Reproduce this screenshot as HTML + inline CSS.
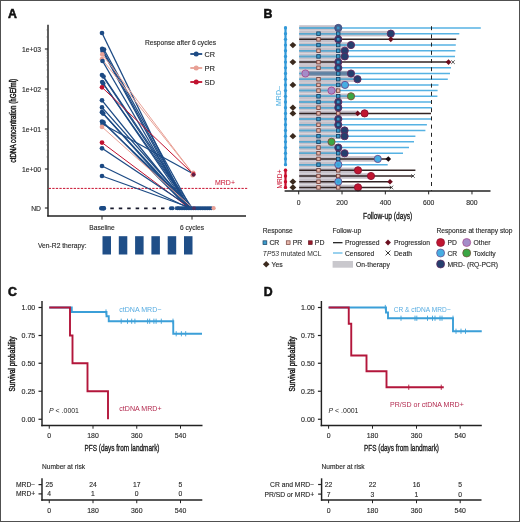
<!DOCTYPE html>
<html><head><meta charset="utf-8"><style>
html,body{margin:0;padding:0;background:#fff;}
.wrap{position:relative;width:520px;height:522px;overflow:hidden;background:#fff;}
svg{position:absolute;left:0;top:0;font-family:"Liberation Sans", sans-serif;will-change:transform;}
.bd{position:absolute;left:0;top:0;width:518px;height:520px;border:1px solid #505050;}
</style></head><body><div class="wrap">
<svg width="520" height="522" viewBox="0 0 520 522" font-family='"Liberation Sans", sans-serif'>
<text x="8" y="18" font-size="12.3" fill="#111" font-weight="bold" stroke="#111" stroke-width="0.55">A</text>
<line x1="48" y1="24.8" x2="48" y2="216.6" stroke="#222" stroke-width="1.45" />
<line x1="47.3" y1="216" x2="246" y2="216" stroke="#222" stroke-width="1.45" />
<line x1="44.9" y1="49" x2="48" y2="49" stroke="#222" stroke-width="1.1" />
<text x="41" y="52.3" font-size="6.75" fill="#2c2c2c" text-anchor="end" textLength="19" lengthAdjust="spacingAndGlyphs" stroke="#2c2c2c" stroke-width="0.14" >1e+03</text>
<line x1="44.9" y1="89" x2="48" y2="89" stroke="#222" stroke-width="1.1" />
<text x="41" y="92.3" font-size="6.75" fill="#2c2c2c" text-anchor="end" textLength="19" lengthAdjust="spacingAndGlyphs" stroke="#2c2c2c" stroke-width="0.14" >1e+02</text>
<line x1="44.9" y1="129" x2="48" y2="129" stroke="#222" stroke-width="1.1" />
<text x="41" y="132.3" font-size="6.75" fill="#2c2c2c" text-anchor="end" textLength="19" lengthAdjust="spacingAndGlyphs" stroke="#2c2c2c" stroke-width="0.14" >1e+01</text>
<line x1="44.9" y1="169" x2="48" y2="169" stroke="#222" stroke-width="1.1" />
<text x="41" y="172.3" font-size="6.75" fill="#2c2c2c" text-anchor="end" textLength="19" lengthAdjust="spacingAndGlyphs" stroke="#2c2c2c" stroke-width="0.14" >1e+00</text>
<line x1="44.9" y1="208" x2="48" y2="208" stroke="#222" stroke-width="1.1" />
<text x="41" y="211.3" font-size="6.75" fill="#2c2c2c" text-anchor="end" stroke="#2c2c2c" stroke-width="0.14" >ND</text>
<line x1="46.6" y1="156.96" x2="48" y2="156.96" stroke="#555" stroke-width="0.7" />
<line x1="46.6" y1="149.92" x2="48" y2="149.92" stroke="#555" stroke-width="0.7" />
<line x1="46.6" y1="144.92" x2="48" y2="144.92" stroke="#555" stroke-width="0.7" />
<line x1="46.6" y1="141.04" x2="48" y2="141.04" stroke="#555" stroke-width="0.7" />
<line x1="46.6" y1="137.87" x2="48" y2="137.87" stroke="#555" stroke-width="0.7" />
<line x1="46.6" y1="135.2" x2="48" y2="135.2" stroke="#555" stroke-width="0.7" />
<line x1="46.6" y1="132.88" x2="48" y2="132.88" stroke="#555" stroke-width="0.7" />
<line x1="46.6" y1="130.83" x2="48" y2="130.83" stroke="#555" stroke-width="0.7" />
<line x1="46.6" y1="116.96" x2="48" y2="116.96" stroke="#555" stroke-width="0.7" />
<line x1="46.6" y1="109.92" x2="48" y2="109.92" stroke="#555" stroke-width="0.7" />
<line x1="46.6" y1="104.92" x2="48" y2="104.92" stroke="#555" stroke-width="0.7" />
<line x1="46.6" y1="101.04" x2="48" y2="101.04" stroke="#555" stroke-width="0.7" />
<line x1="46.6" y1="97.87" x2="48" y2="97.87" stroke="#555" stroke-width="0.7" />
<line x1="46.6" y1="95.2" x2="48" y2="95.2" stroke="#555" stroke-width="0.7" />
<line x1="46.6" y1="92.88" x2="48" y2="92.88" stroke="#555" stroke-width="0.7" />
<line x1="46.6" y1="90.83" x2="48" y2="90.83" stroke="#555" stroke-width="0.7" />
<line x1="46.6" y1="76.96" x2="48" y2="76.96" stroke="#555" stroke-width="0.7" />
<line x1="46.6" y1="69.92" x2="48" y2="69.92" stroke="#555" stroke-width="0.7" />
<line x1="46.6" y1="64.92" x2="48" y2="64.92" stroke="#555" stroke-width="0.7" />
<line x1="46.6" y1="61.04" x2="48" y2="61.04" stroke="#555" stroke-width="0.7" />
<line x1="46.6" y1="57.87" x2="48" y2="57.87" stroke="#555" stroke-width="0.7" />
<line x1="46.6" y1="55.2" x2="48" y2="55.2" stroke="#555" stroke-width="0.7" />
<line x1="46.6" y1="52.88" x2="48" y2="52.88" stroke="#555" stroke-width="0.7" />
<line x1="46.6" y1="50.83" x2="48" y2="50.83" stroke="#555" stroke-width="0.7" />
<line x1="46.6" y1="36.96" x2="48" y2="36.96" stroke="#555" stroke-width="0.7" />
<line x1="46.6" y1="29.92" x2="48" y2="29.92" stroke="#555" stroke-width="0.7" />
<line x1="102" y1="216" x2="102" y2="219.6" stroke="#222" stroke-width="1" />
<line x1="192" y1="216" x2="192" y2="219.6" stroke="#222" stroke-width="1" />
<text x="102" y="229.8" font-size="6.7" fill="#2c2c2c" text-anchor="middle" textLength="25.5" lengthAdjust="spacingAndGlyphs" stroke="#2c2c2c" stroke-width="0.14" >Baseline</text>
<text x="192" y="229.8" font-size="6.7" fill="#2c2c2c" text-anchor="middle" textLength="24" lengthAdjust="spacingAndGlyphs" stroke="#2c2c2c" stroke-width="0.14" >6 cycles</text>
<text transform="translate(15.6,120.6) rotate(-90)" font-size="8.2" fill="#141414" stroke="#141414" stroke-width="0.42" text-anchor="middle" textLength="83.6" lengthAdjust="spacingAndGlyphs">ctDNA concentration (hGE/ml)</text>
<line x1="48.7" y1="188.4" x2="247.2" y2="188.4" stroke="#c8102e" stroke-width="1" stroke-dasharray="2.3 1.27"/>
<text x="215" y="185.4" font-size="7" fill="#c8102e" textLength="20" lengthAdjust="spacingAndGlyphs" stroke="none">MRD+</text>
<text x="145" y="45" font-size="6.7" fill="#2c2c2c" textLength="71" lengthAdjust="spacingAndGlyphs" stroke="#2c2c2c" stroke-width="0.14" >Response after 6 cycles</text>
<line x1="190.3" y1="54" x2="202.2" y2="54" stroke="#1c4a84" stroke-width="1.8" />
<circle cx="196.2" cy="54" r="2.5" fill="#1c4a84"/>
<text x="204.5" y="56.85" font-size="7.8" fill="#2a2a2a" textLength="10.5" lengthAdjust="spacingAndGlyphs" stroke="#2a2a2a" stroke-width="0.14" >CR</text>
<line x1="190.3" y1="68" x2="202.2" y2="68" stroke="#e8a095" stroke-width="1.8" />
<circle cx="196.2" cy="68" r="2.5" fill="#e8a095"/>
<text x="204.5" y="70.85" font-size="7.8" fill="#2a2a2a" textLength="10.5" lengthAdjust="spacingAndGlyphs" stroke="#2a2a2a" stroke-width="0.14" >PR</text>
<line x1="190.3" y1="82" x2="202.2" y2="82" stroke="#c0112f" stroke-width="1.8" />
<circle cx="196.2" cy="82" r="2.5" fill="#c0112f"/>
<text x="204.5" y="84.85" font-size="7.8" fill="#2a2a2a" textLength="10.5" lengthAdjust="spacingAndGlyphs" stroke="#2a2a2a" stroke-width="0.14" >SD</text>
<line x1="102" y1="33" x2="186.5" y2="207" stroke="#1c4a84" stroke-width="1.3" />
<line x1="102.2" y1="48.8" x2="188.5" y2="207" stroke="#1c4a84" stroke-width="1.3" />
<line x1="104" y1="49.5" x2="190.5" y2="207" stroke="#1c4a84" stroke-width="1.3" />
<line x1="102.5" y1="51" x2="187.0" y2="207" stroke="#1c4a84" stroke-width="1.3" />
<line x1="102.3" y1="54.4" x2="193" y2="173.8" stroke="#e8a095" stroke-width="1.0" />
<line x1="102" y1="59.2" x2="193" y2="173.8" stroke="#e8a095" stroke-width="1.0" />
<line x1="102.5" y1="61" x2="187.5" y2="207" stroke="#1c4a84" stroke-width="1.3" />
<line x1="102" y1="75" x2="189.5" y2="207" stroke="#1c4a84" stroke-width="1.3" />
<line x1="103.5" y1="76.5" x2="191.5" y2="207" stroke="#1c4a84" stroke-width="1.3" />
<line x1="102.2" y1="82" x2="188.0" y2="207" stroke="#1c4a84" stroke-width="1.3" />
<line x1="103.2" y1="83.6" x2="190.0" y2="207" stroke="#1c4a84" stroke-width="1.3" />
<line x1="102" y1="87.3" x2="193" y2="173.8" stroke="#c0112f" stroke-width="1.0" />
<line x1="102" y1="100.3" x2="188.5" y2="207" stroke="#1c4a84" stroke-width="1.3" />
<line x1="102" y1="107.4" x2="190.5" y2="207" stroke="#1c4a84" stroke-width="1.3" />
<line x1="102" y1="112.2" x2="187.0" y2="207" stroke="#1c4a84" stroke-width="1.3" />
<line x1="103.2" y1="113.6" x2="189.0" y2="207" stroke="#1c4a84" stroke-width="1.3" />
<line x1="102" y1="121.6" x2="191.0" y2="207" stroke="#1c4a84" stroke-width="1.3" />
<line x1="103.5" y1="122.4" x2="187.5" y2="207" stroke="#1c4a84" stroke-width="1.3" />
<line x1="102.5" y1="124" x2="193" y2="173.8" stroke="#1c4a84" stroke-width="1.3" />
<line x1="102" y1="126.9" x2="191.5" y2="207" stroke="#e8a095" stroke-width="1.0" />
<line x1="102" y1="142.6" x2="188.0" y2="207" stroke="#c0112f" stroke-width="1.0" />
<line x1="102" y1="148.3" x2="190.0" y2="207" stroke="#1c4a84" stroke-width="1.3" />
<line x1="102" y1="166" x2="186.5" y2="207" stroke="#1c4a84" stroke-width="1.3" />
<line x1="102" y1="176" x2="188.5" y2="207" stroke="#1c4a84" stroke-width="1.3" />
<line x1="110.3" y1="208.3" x2="166" y2="208.3" stroke="#181a2c" stroke-width="1.7" stroke-dasharray="3.5 4.95"/>
<circle cx="102" cy="33" r="2.35" fill="#1c4a84"/>
<circle cx="102.2" cy="48.8" r="2.35" fill="#1c4a84"/>
<circle cx="104" cy="49.5" r="2.35" fill="#1c4a84"/>
<circle cx="102.5" cy="51" r="2.35" fill="#1c4a84"/>
<circle cx="102.3" cy="54.4" r="2.35" fill="#e8a095"/>
<circle cx="102" cy="59.2" r="2.35" fill="#e8a095"/>
<circle cx="102.5" cy="61" r="2.35" fill="#1c4a84"/>
<circle cx="102" cy="75" r="2.35" fill="#1c4a84"/>
<circle cx="103.5" cy="76.5" r="2.35" fill="#1c4a84"/>
<circle cx="102.2" cy="82" r="2.35" fill="#1c4a84"/>
<circle cx="103.2" cy="83.6" r="2.35" fill="#1c4a84"/>
<circle cx="102" cy="87.3" r="2.35" fill="#c0112f"/>
<circle cx="102" cy="100.3" r="2.35" fill="#1c4a84"/>
<circle cx="102" cy="107.4" r="2.35" fill="#1c4a84"/>
<circle cx="102" cy="112.2" r="2.35" fill="#1c4a84"/>
<circle cx="103.2" cy="113.6" r="2.35" fill="#1c4a84"/>
<circle cx="102" cy="121.6" r="2.35" fill="#1c4a84"/>
<circle cx="103.5" cy="122.4" r="2.35" fill="#1c4a84"/>
<circle cx="102.5" cy="124" r="2.35" fill="#1c4a84"/>
<circle cx="102" cy="126.9" r="2.35" fill="#e8a095"/>
<circle cx="102" cy="142.6" r="2.35" fill="#c0112f"/>
<circle cx="102" cy="148.3" r="2.35" fill="#1c4a84"/>
<circle cx="102" cy="166" r="2.35" fill="#1c4a84"/>
<circle cx="102" cy="176" r="2.35" fill="#1c4a84"/>
<circle cx="101.2" cy="208.3" r="2.2" fill="#1c4a84"/>
<circle cx="102.4" cy="208.3" r="2.2" fill="#1c4a84"/>
<circle cx="103.6" cy="208.3" r="2.2" fill="#1c4a84"/>
<circle cx="103.9" cy="208.3" r="2.2" fill="#1c4a84"/>
<circle cx="170.90" cy="208.2" r="2.0" fill="#1c4a84"/>
<circle cx="172.60" cy="208.2" r="2.0" fill="#1c4a84"/>
<circle cx="177.60" cy="208.2" r="2.0" fill="#1c4a84"/>
<circle cx="179.37" cy="208.2" r="2.0" fill="#1c4a84"/>
<circle cx="181.14" cy="208.2" r="2.0" fill="#1c4a84"/>
<circle cx="182.91" cy="208.2" r="2.0" fill="#1c4a84"/>
<circle cx="184.67" cy="208.2" r="2.0" fill="#1c4a84"/>
<circle cx="186.44" cy="208.2" r="2.0" fill="#1c4a84"/>
<circle cx="188.21" cy="208.2" r="2.0" fill="#1c4a84"/>
<circle cx="189.98" cy="208.2" r="2.0" fill="#1c4a84"/>
<circle cx="191.75" cy="208.2" r="2.0" fill="#1c4a84"/>
<circle cx="193.52" cy="208.2" r="2.0" fill="#1c4a84"/>
<circle cx="195.28" cy="208.2" r="2.0" fill="#1c4a84"/>
<circle cx="197.05" cy="208.2" r="2.0" fill="#1c4a84"/>
<circle cx="198.82" cy="208.2" r="2.0" fill="#1c4a84"/>
<circle cx="200.59" cy="208.2" r="2.0" fill="#1c4a84"/>
<circle cx="202.36" cy="208.2" r="2.0" fill="#1c4a84"/>
<circle cx="204.13" cy="208.2" r="2.0" fill="#1c4a84"/>
<circle cx="205.89" cy="208.2" r="2.0" fill="#1c4a84"/>
<circle cx="207.66" cy="208.2" r="2.0" fill="#1c4a84"/>
<circle cx="209.43" cy="208.2" r="2.0" fill="#1c4a84"/>
<circle cx="211.20" cy="208.2" r="2.0" fill="#1c4a84"/>
<rect x="175" y="206.5" width="4" height="3.4" fill="#1c4a84" opacity="0.85"/>
<circle cx="194" cy="208.2" r="1.9" fill="#7a1f45" opacity="0.55"/>
<circle cx="213.6" cy="208.2" r="2.1" fill="#e8a095"/>
<circle cx="193.2" cy="172.8" r="2.2" fill="#e8a095"/>
<circle cx="192.6" cy="175.2" r="2.2" fill="#e8a095"/>
<circle cx="193.6" cy="174.2" r="2.1" fill="#c0112f" opacity="0.85"/>
<circle cx="193.6" cy="174.8" r="1.9" fill="#4a1f48" opacity="0.85"/>
<text x="38" y="248.3" font-size="6.7" fill="#2c2c2c" textLength="48.5" lengthAdjust="spacingAndGlyphs" stroke="#2c2c2c" stroke-width="0.14" >Ven-R2 therapy:</text>
<rect x="102.50" y="236.2" width="8.5" height="18.3" fill="#1f4e87"/>
<rect x="118.80" y="236.2" width="8.5" height="18.3" fill="#1f4e87"/>
<rect x="135.10" y="236.2" width="8.5" height="18.3" fill="#1f4e87"/>
<rect x="151.40" y="236.2" width="8.5" height="18.3" fill="#1f4e87"/>
<rect x="167.70" y="236.2" width="8.5" height="18.3" fill="#1f4e87"/>
<rect x="184.00" y="236.2" width="8.5" height="18.3" fill="#1f4e87"/>
<text x="263.6" y="18.2" font-size="12.3" fill="#111" font-weight="bold" stroke="#111" stroke-width="0.55">B</text>
<rect x="299.2" y="25.20" width="38.80" height="5.5" fill="#c6c1ca"/>
<rect x="299.2" y="30.89" width="91.80" height="5.5" fill="#c6c1ca"/>
<rect x="299.2" y="36.59" width="38.80" height="5.5" fill="#c6c1ca"/>
<rect x="299.2" y="42.28" width="51.80" height="5.5" fill="#c6c1ca"/>
<rect x="299.2" y="47.98" width="45.80" height="5.5" fill="#c6c1ca"/>
<rect x="299.2" y="53.67" width="45.80" height="5.5" fill="#c6c1ca"/>
<rect x="299.2" y="59.37" width="38.80" height="5.5" fill="#c6c1ca"/>
<rect x="299.2" y="65.06" width="38.80" height="5.5" fill="#c6c1ca"/>
<rect x="299.2" y="70.76" width="51.80" height="5.5" fill="#c6c1ca"/>
<rect x="299.2" y="76.45" width="57.80" height="5.5" fill="#c6c1ca"/>
<rect x="299.2" y="82.15" width="45.80" height="5.5" fill="#c6c1ca"/>
<rect x="299.2" y="87.84" width="38.80" height="5.5" fill="#c6c1ca"/>
<rect x="299.2" y="93.54" width="51.80" height="5.5" fill="#c6c1ca"/>
<rect x="299.2" y="99.23" width="38.80" height="5.5" fill="#c6c1ca"/>
<rect x="299.2" y="104.93" width="38.80" height="5.5" fill="#c6c1ca"/>
<rect x="299.2" y="110.63" width="58.50" height="5.5" fill="#c6c1ca"/>
<rect x="299.2" y="116.32" width="38.80" height="5.5" fill="#c6c1ca"/>
<rect x="299.2" y="122.02" width="38.80" height="5.5" fill="#c6c1ca"/>
<rect x="299.2" y="127.71" width="45.80" height="5.5" fill="#c6c1ca"/>
<rect x="299.2" y="133.41" width="45.80" height="5.5" fill="#c6c1ca"/>
<rect x="299.2" y="139.10" width="32.30" height="5.5" fill="#c6c1ca"/>
<rect x="299.2" y="144.79" width="38.80" height="5.5" fill="#c6c1ca"/>
<rect x="299.2" y="150.49" width="45.80" height="5.5" fill="#c6c1ca"/>
<rect x="299.2" y="156.19" width="78.60" height="5.5" fill="#c6c1ca"/>
<rect x="299.2" y="161.88" width="38.80" height="5.5" fill="#c6c1ca"/>
<rect x="299.2" y="167.57" width="58.80" height="5.5" fill="#c6c1ca"/>
<rect x="299.2" y="173.27" width="71.80" height="5.5" fill="#c6c1ca"/>
<rect x="299.2" y="178.97" width="38.80" height="5.5" fill="#c6c1ca"/>
<rect x="299.2" y="184.66" width="58.80" height="5.5" fill="#c6c1ca"/>
<line x1="299.2" y1="27.95" x2="480.8" y2="27.95" stroke="#56b2e3" stroke-width="1.5" />
<line x1="299.2" y1="27.95" x2="338" y2="27.95" stroke="#5aa6cc" stroke-width="1.5" />
<line x1="299.2" y1="33.64" x2="459.3" y2="33.64" stroke="#56b2e3" stroke-width="1.5" />
<line x1="299.2" y1="33.64" x2="391" y2="33.64" stroke="#5aa6cc" stroke-width="1.5" />
<line x1="299.2" y1="39.34" x2="456.2" y2="39.34" stroke="#322424" stroke-width="1.5" />
<line x1="299.2" y1="45.03" x2="455.8" y2="45.03" stroke="#56b2e3" stroke-width="1.5" />
<line x1="299.2" y1="45.03" x2="351" y2="45.03" stroke="#5aa6cc" stroke-width="1.5" />
<line x1="299.2" y1="50.73" x2="455.4" y2="50.73" stroke="#56b2e3" stroke-width="1.5" />
<line x1="299.2" y1="50.73" x2="345" y2="50.73" stroke="#5aa6cc" stroke-width="1.5" />
<line x1="299.2" y1="56.42" x2="455.0" y2="56.42" stroke="#56b2e3" stroke-width="1.5" />
<line x1="299.2" y1="56.42" x2="345" y2="56.42" stroke="#5aa6cc" stroke-width="1.5" />
<line x1="299.2" y1="62.12" x2="449.0" y2="62.12" stroke="#322424" stroke-width="1.5" />
<line x1="299.2" y1="67.81" x2="451.0" y2="67.81" stroke="#56b2e3" stroke-width="1.5" />
<line x1="299.2" y1="67.81" x2="338" y2="67.81" stroke="#5aa6cc" stroke-width="1.5" />
<line x1="299.2" y1="73.51" x2="450.0" y2="73.51" stroke="#56b2e3" stroke-width="1.5" />
<line x1="299.2" y1="73.51" x2="351" y2="73.51" stroke="#5aa6cc" stroke-width="1.5" />
<line x1="299.2" y1="79.2" x2="447.8" y2="79.2" stroke="#56b2e3" stroke-width="1.5" />
<line x1="299.2" y1="79.2" x2="357" y2="79.2" stroke="#5aa6cc" stroke-width="1.5" />
<line x1="299.2" y1="84.9" x2="438.5" y2="84.9" stroke="#56b2e3" stroke-width="1.5" />
<line x1="299.2" y1="84.9" x2="345" y2="84.9" stroke="#5aa6cc" stroke-width="1.5" />
<line x1="299.2" y1="90.59" x2="437.6" y2="90.59" stroke="#56b2e3" stroke-width="1.5" />
<line x1="299.2" y1="90.59" x2="338" y2="90.59" stroke="#5aa6cc" stroke-width="1.5" />
<line x1="299.2" y1="96.29" x2="437.4" y2="96.29" stroke="#56b2e3" stroke-width="1.5" />
<line x1="299.2" y1="96.29" x2="351" y2="96.29" stroke="#5aa6cc" stroke-width="1.5" />
<line x1="299.2" y1="101.98" x2="432.0" y2="101.98" stroke="#56b2e3" stroke-width="1.5" />
<line x1="299.2" y1="101.98" x2="338" y2="101.98" stroke="#5aa6cc" stroke-width="1.5" />
<line x1="299.2" y1="107.68" x2="432.0" y2="107.68" stroke="#56b2e3" stroke-width="1.5" />
<line x1="299.2" y1="107.68" x2="338" y2="107.68" stroke="#5aa6cc" stroke-width="1.5" />
<line x1="299.2" y1="113.38" x2="431.0" y2="113.38" stroke="#322424" stroke-width="1.5" />
<line x1="299.2" y1="119.07" x2="431.0" y2="119.07" stroke="#56b2e3" stroke-width="1.5" />
<line x1="299.2" y1="119.07" x2="338" y2="119.07" stroke="#5aa6cc" stroke-width="1.5" />
<line x1="299.2" y1="124.77" x2="426.9" y2="124.77" stroke="#56b2e3" stroke-width="1.5" />
<line x1="299.2" y1="124.77" x2="338" y2="124.77" stroke="#5aa6cc" stroke-width="1.5" />
<line x1="299.2" y1="130.46" x2="425.4" y2="130.46" stroke="#56b2e3" stroke-width="1.5" />
<line x1="299.2" y1="130.46" x2="345" y2="130.46" stroke="#5aa6cc" stroke-width="1.5" />
<line x1="299.2" y1="136.16" x2="415.4" y2="136.16" stroke="#56b2e3" stroke-width="1.5" />
<line x1="299.2" y1="136.16" x2="345" y2="136.16" stroke="#5aa6cc" stroke-width="1.5" />
<line x1="299.2" y1="141.85" x2="414.0" y2="141.85" stroke="#56b2e3" stroke-width="1.5" />
<line x1="299.2" y1="141.85" x2="331.5" y2="141.85" stroke="#5aa6cc" stroke-width="1.5" />
<line x1="299.2" y1="147.54" x2="409.0" y2="147.54" stroke="#56b2e3" stroke-width="1.5" />
<line x1="299.2" y1="147.54" x2="338" y2="147.54" stroke="#5aa6cc" stroke-width="1.5" />
<line x1="299.2" y1="153.24" x2="403.0" y2="153.24" stroke="#56b2e3" stroke-width="1.5" />
<line x1="299.2" y1="153.24" x2="345" y2="153.24" stroke="#5aa6cc" stroke-width="1.5" />
<line x1="299.2" y1="158.94" x2="388.3" y2="158.94" stroke="#322424" stroke-width="1.5" />
<line x1="299.2" y1="164.63" x2="387.7" y2="164.63" stroke="#56b2e3" stroke-width="1.5" />
<line x1="299.2" y1="164.63" x2="338" y2="164.63" stroke="#5aa6cc" stroke-width="1.5" />
<line x1="299.2" y1="170.32" x2="415.4" y2="170.32" stroke="#322424" stroke-width="1.5" />
<line x1="299.2" y1="176.02" x2="413.0" y2="176.02" stroke="#322424" stroke-width="1.5" />
<line x1="299.2" y1="181.72" x2="390.0" y2="181.72" stroke="#322424" stroke-width="1.5" />
<line x1="299.2" y1="187.41" x2="391.5" y2="187.41" stroke="#322424" stroke-width="1.5" />
<rect x="305" y="71.41" width="46" height="4.2" fill="#5f7c9c" opacity="0.85"/>
<line x1="431.5" y1="26.2" x2="431.5" y2="191" stroke="#222" stroke-width="1" stroke-dasharray="4 4.2"/>
<rect x="336.45" y="26.20" width="3.5" height="3.5" fill="#3d9cca" stroke="#173f63" stroke-width="0.85"/>
<rect x="316.75" y="31.89" width="3.5" height="3.5" fill="#3d9cca" stroke="#173f63" stroke-width="0.85"/>
<rect x="336.45" y="31.89" width="3.5" height="3.5" fill="#3d9cca" stroke="#173f63" stroke-width="0.85"/>
<rect x="316.75" y="37.59" width="3.5" height="3.5" fill="#e6b8ac" stroke="#74403a" stroke-width="0.85"/>
<rect x="316.75" y="43.28" width="3.5" height="3.5" fill="#3d9cca" stroke="#173f63" stroke-width="0.85"/>
<rect x="336.45" y="43.28" width="3.5" height="3.5" fill="#3d9cca" stroke="#173f63" stroke-width="0.85"/>
<rect x="316.75" y="48.98" width="3.5" height="3.5" fill="#e6b8ac" stroke="#74403a" stroke-width="0.85"/>
<rect x="336.45" y="48.98" width="3.5" height="3.5" fill="#3d9cca" stroke="#173f63" stroke-width="0.85"/>
<rect x="316.75" y="54.67" width="3.5" height="3.5" fill="#3d9cca" stroke="#173f63" stroke-width="0.85"/>
<rect x="336.45" y="54.67" width="3.5" height="3.5" fill="#3d9cca" stroke="#173f63" stroke-width="0.85"/>
<rect x="316.75" y="60.37" width="3.5" height="3.5" fill="#e6b8ac" stroke="#74403a" stroke-width="0.85"/>
<rect x="316.75" y="66.06" width="3.5" height="3.5" fill="#e6b8ac" stroke="#74403a" stroke-width="0.85"/>
<rect x="336.45" y="71.76" width="3.5" height="3.5" fill="#3d9cca" stroke="#173f63" stroke-width="0.85"/>
<rect x="316.75" y="77.45" width="3.5" height="3.5" fill="#e6b8ac" stroke="#74403a" stroke-width="0.85"/>
<rect x="336.45" y="77.45" width="3.5" height="3.5" fill="#3d9cca" stroke="#173f63" stroke-width="0.85"/>
<rect x="316.75" y="83.15" width="3.5" height="3.5" fill="#e6b8ac" stroke="#74403a" stroke-width="0.85"/>
<rect x="336.45" y="83.15" width="3.5" height="3.5" fill="#3d9cca" stroke="#173f63" stroke-width="0.85"/>
<rect x="316.75" y="88.84" width="3.5" height="3.5" fill="#e6b8ac" stroke="#74403a" stroke-width="0.85"/>
<rect x="336.45" y="88.84" width="3.5" height="3.5" fill="#e6b8ac" stroke="#74403a" stroke-width="0.85"/>
<rect x="316.75" y="94.54" width="3.5" height="3.5" fill="#3d9cca" stroke="#173f63" stroke-width="0.85"/>
<rect x="336.45" y="94.54" width="3.5" height="3.5" fill="#3d9cca" stroke="#173f63" stroke-width="0.85"/>
<rect x="316.75" y="100.23" width="3.5" height="3.5" fill="#3d9cca" stroke="#173f63" stroke-width="0.85"/>
<rect x="316.75" y="105.93" width="3.5" height="3.5" fill="#e6b8ac" stroke="#74403a" stroke-width="0.85"/>
<rect x="316.75" y="111.63" width="3.5" height="3.5" fill="#e6b8ac" stroke="#74403a" stroke-width="0.85"/>
<rect x="336.45" y="111.63" width="3.5" height="3.5" fill="#e6b8ac" stroke="#74403a" stroke-width="0.85"/>
<rect x="316.75" y="117.32" width="3.5" height="3.5" fill="#3d9cca" stroke="#173f63" stroke-width="0.85"/>
<rect x="316.75" y="123.02" width="3.5" height="3.5" fill="#e6b8ac" stroke="#74403a" stroke-width="0.85"/>
<rect x="316.75" y="128.71" width="3.5" height="3.5" fill="#e6b8ac" stroke="#74403a" stroke-width="0.85"/>
<rect x="336.45" y="128.71" width="3.5" height="3.5" fill="#3d9cca" stroke="#173f63" stroke-width="0.85"/>
<rect x="316.75" y="134.41" width="3.5" height="3.5" fill="#3d9cca" stroke="#173f63" stroke-width="0.85"/>
<rect x="336.45" y="134.41" width="3.5" height="3.5" fill="#3d9cca" stroke="#173f63" stroke-width="0.85"/>
<rect x="316.75" y="140.10" width="3.5" height="3.5" fill="#3d9cca" stroke="#173f63" stroke-width="0.85"/>
<rect x="316.75" y="145.79" width="3.5" height="3.5" fill="#e6b8ac" stroke="#74403a" stroke-width="0.85"/>
<rect x="316.75" y="151.49" width="3.5" height="3.5" fill="#e6b8ac" stroke="#74403a" stroke-width="0.85"/>
<rect x="336.45" y="151.49" width="3.5" height="3.5" fill="#3d9cca" stroke="#173f63" stroke-width="0.85"/>
<rect x="316.75" y="157.19" width="3.5" height="3.5" fill="#e6b8ac" stroke="#74403a" stroke-width="0.85"/>
<rect x="336.45" y="157.19" width="3.5" height="3.5" fill="#3d9cca" stroke="#173f63" stroke-width="0.85"/>
<rect x="316.75" y="162.88" width="3.5" height="3.5" fill="#3d9cca" stroke="#173f63" stroke-width="0.85"/>
<rect x="316.75" y="168.57" width="3.5" height="3.5" fill="#e6b8ac" stroke="#74403a" stroke-width="0.85"/>
<rect x="336.45" y="168.57" width="3.5" height="3.5" fill="#e6b8ac" stroke="#74403a" stroke-width="0.85"/>
<rect x="316.75" y="174.27" width="3.5" height="3.5" fill="#e6b8ac" stroke="#74403a" stroke-width="0.85"/>
<rect x="336.45" y="174.27" width="3.5" height="3.5" fill="#e6b8ac" stroke="#74403a" stroke-width="0.85"/>
<rect x="316.75" y="179.97" width="3.5" height="3.5" fill="#e6b8ac" stroke="#74403a" stroke-width="0.85"/>
<rect x="316.75" y="185.66" width="3.5" height="3.5" fill="#e6b8ac" stroke="#74403a" stroke-width="0.85"/>
<rect x="336.45" y="185.66" width="3.5" height="3.5" fill="#e6b8ac" stroke="#74403a" stroke-width="0.85"/>
<circle cx="338.3" cy="27.95" r="3.6" fill="#44608e" stroke="#4a4a7e" stroke-width="0.9"/>
<circle cx="390.8" cy="33.64" r="3.6" fill="#253f6e" stroke="#63285f" stroke-width="0.9"/>
<circle cx="338.3" cy="39.34" r="3.6" fill="#253f6e" stroke="#63285f" stroke-width="0.9"/>
<circle cx="351" cy="45.03" r="3.6" fill="#253f6e" stroke="#63285f" stroke-width="0.9"/>
<circle cx="344.8" cy="50.73" r="3.6" fill="#253f6e" stroke="#63285f" stroke-width="0.9"/>
<circle cx="344.8" cy="56.42" r="3.6" fill="#253f6e" stroke="#63285f" stroke-width="0.9"/>
<circle cx="338.3" cy="62.12" r="3.6" fill="#253f6e" stroke="#63285f" stroke-width="0.9"/>
<circle cx="338.3" cy="67.81" r="3.6" fill="#253f6e" stroke="#63285f" stroke-width="0.9"/>
<circle cx="351" cy="73.51" r="3.6" fill="#253f6e" stroke="#63285f" stroke-width="0.9"/>
<circle cx="357.5" cy="79.20" r="3.6" fill="#253f6e" stroke="#63285f" stroke-width="0.9"/>
<circle cx="345" cy="84.90" r="3.6" fill="#47ade2" stroke="#6a4a8a" stroke-width="0.9"/>
<circle cx="331.5" cy="90.59" r="3.6" fill="#a48cc8" stroke="#a8458a" stroke-width="0.9"/>
<circle cx="351" cy="96.29" r="3.6" fill="#3ba643" stroke="#7a4a3a" stroke-width="0.9"/>
<circle cx="338.3" cy="101.98" r="3.6" fill="#253f6e" stroke="#63285f" stroke-width="0.9"/>
<circle cx="338.3" cy="107.68" r="3.6" fill="#253f6e" stroke="#63285f" stroke-width="0.9"/>
<circle cx="364.6" cy="113.38" r="3.6" fill="#c01530" stroke="#8a1030" stroke-width="0.9"/>
<circle cx="338.3" cy="119.07" r="3.6" fill="#253f6e" stroke="#63285f" stroke-width="0.9"/>
<circle cx="338.3" cy="124.77" r="3.6" fill="#253f6e" stroke="#63285f" stroke-width="0.9"/>
<circle cx="344.6" cy="130.46" r="3.6" fill="#253f6e" stroke="#63285f" stroke-width="0.9"/>
<circle cx="344.6" cy="136.16" r="3.6" fill="#253f6e" stroke="#63285f" stroke-width="0.9"/>
<circle cx="331.5" cy="141.85" r="3.6" fill="#3ba643" stroke="#7a4a3a" stroke-width="0.9"/>
<circle cx="338.3" cy="147.54" r="3.6" fill="#253f6e" stroke="#63285f" stroke-width="0.9"/>
<circle cx="344.6" cy="153.24" r="3.6" fill="#253f6e" stroke="#63285f" stroke-width="0.9"/>
<circle cx="377.8" cy="158.94" r="3.6" fill="#47ade2" stroke="#6a4a8a" stroke-width="0.9"/>
<circle cx="338.3" cy="164.63" r="3.6" fill="#47ade2" stroke="#6a4a8a" stroke-width="0.9"/>
<circle cx="358" cy="170.32" r="3.6" fill="#c01530" stroke="#8a1030" stroke-width="0.9"/>
<circle cx="371" cy="176.02" r="3.6" fill="#c01530" stroke="#8a1030" stroke-width="0.9"/>
<circle cx="338.3" cy="181.72" r="3.6" fill="#47ade2" stroke="#6a4a8a" stroke-width="0.9"/>
<circle cx="358" cy="187.41" r="3.6" fill="#c01530" stroke="#8a1030" stroke-width="0.9"/>
<circle cx="305.4" cy="73.51" r="3.6" fill="#a48cc8" stroke="#a8458a" stroke-width="0.8"/>
<rect x="336.9" y="26.65" width="2.6" height="2.6" fill="#3aa0d0" opacity="0.85"/>
<rect x="336.9" y="38.04" width="2.6" height="2.6" fill="#3aa0d0" opacity="0.85"/>
<rect x="336.9" y="60.82" width="2.6" height="2.6" fill="#3aa0d0" opacity="0.85"/>
<rect x="336.9" y="66.52" width="2.6" height="2.6" fill="#3aa0d0" opacity="0.85"/>
<rect x="336.9" y="100.69" width="2.6" height="2.6" fill="#3aa0d0" opacity="0.85"/>
<rect x="336.9" y="106.38" width="2.6" height="2.6" fill="#3aa0d0" opacity="0.85"/>
<rect x="336.9" y="117.77" width="2.6" height="2.6" fill="#3aa0d0" opacity="0.85"/>
<rect x="336.9" y="123.47" width="2.6" height="2.6" fill="#3aa0d0" opacity="0.85"/>
<rect x="336.9" y="146.24" width="2.6" height="2.6" fill="#3aa0d0" opacity="0.85"/>
<rect x="336.9" y="163.33" width="2.6" height="2.6" fill="#3aa0d0" opacity="0.85"/>
<rect x="336.9" y="180.41" width="2.6" height="2.6" fill="#3aa0d0" opacity="0.85"/>
<path d="M390.8 36.54 L393.6 39.34 L390.8 42.14 L388.0 39.34 Z" fill="#6e0b1c"/>
<path d="M448.5 59.32 L451.3 62.12 L448.5 64.92 L445.7 62.12 Z" fill="#6e0b1c"/>
<path d="M451.2 60.32 L454.8 63.92 M451.2 63.92 L454.8 60.32" stroke="#333" stroke-width="0.8"/>
<path d="M357.7 110.58 L360.5 113.38 L357.7 116.18 L354.9 113.38 Z" fill="#6e0b1c"/>
<path d="M388.3 156.14 L391.1 158.94 L388.3 161.74 L385.5 158.94 Z" fill="#1a0a10"/>
<path d="M411.2 174.22 L414.8 177.82 M411.2 177.82 L414.8 174.22" stroke="#333" stroke-width="0.8"/>
<path d="M390 178.92 L392.8 181.72 L390 184.52 L387.2 181.72 Z" fill="#6e0b1c"/>
<path d="M389.7 185.61 L393.3 189.21 M389.7 189.21 L393.3 185.61" stroke="#333" stroke-width="0.8"/>
<path d="M292.9 41.88 L296.29999999999995 45.03 L292.9 48.18 L289.5 45.03 Z" fill="#3b2a1e"/>
<path d="M292.9 58.97 L296.29999999999995 62.12 L292.9 65.27 L289.5 62.12 Z" fill="#3b2a1e"/>
<path d="M292.9 81.75 L296.29999999999995 84.9 L292.9 88.05 L289.5 84.9 Z" fill="#3b2a1e"/>
<path d="M292.9 104.53 L296.29999999999995 107.68 L292.9 110.83 L289.5 107.68 Z" fill="#3b2a1e"/>
<path d="M292.9 110.23 L296.29999999999995 113.38 L292.9 116.53 L289.5 113.38 Z" fill="#3b2a1e"/>
<path d="M292.9 133.01 L296.29999999999995 136.16 L292.9 139.31 L289.5 136.16 Z" fill="#3b2a1e"/>
<path d="M292.9 178.57 L296.29999999999995 181.72 L292.9 184.87 L289.5 181.72 Z" fill="#3b2a1e"/>
<path d="M292.9 184.26 L296.29999999999995 187.41 L292.9 190.56 L289.5 187.41 Z" fill="#3b2a1e"/>
<rect x="284.4" y="26.3" width="2.2" height="139.53" fill="#3299d8"/>
<circle cx="285.5" cy="27.95" r="1.65" fill="#3299d8"/>
<circle cx="285.5" cy="33.64" r="1.65" fill="#3299d8"/>
<circle cx="285.5" cy="39.34" r="1.65" fill="#3299d8"/>
<circle cx="285.5" cy="45.03" r="1.65" fill="#3299d8"/>
<circle cx="285.5" cy="50.73" r="1.65" fill="#3299d8"/>
<circle cx="285.5" cy="56.42" r="1.65" fill="#3299d8"/>
<circle cx="285.5" cy="62.12" r="1.65" fill="#3299d8"/>
<circle cx="285.5" cy="67.81" r="1.65" fill="#3299d8"/>
<circle cx="285.5" cy="73.51" r="1.65" fill="#3299d8"/>
<circle cx="285.5" cy="79.20" r="1.65" fill="#3299d8"/>
<circle cx="285.5" cy="84.90" r="1.65" fill="#3299d8"/>
<circle cx="285.5" cy="90.59" r="1.65" fill="#3299d8"/>
<circle cx="285.5" cy="96.29" r="1.65" fill="#3299d8"/>
<circle cx="285.5" cy="101.98" r="1.65" fill="#3299d8"/>
<circle cx="285.5" cy="107.68" r="1.65" fill="#3299d8"/>
<circle cx="285.5" cy="113.38" r="1.65" fill="#3299d8"/>
<circle cx="285.5" cy="119.07" r="1.65" fill="#3299d8"/>
<circle cx="285.5" cy="124.77" r="1.65" fill="#3299d8"/>
<circle cx="285.5" cy="130.46" r="1.65" fill="#3299d8"/>
<circle cx="285.5" cy="136.16" r="1.65" fill="#3299d8"/>
<circle cx="285.5" cy="141.85" r="1.65" fill="#3299d8"/>
<circle cx="285.5" cy="147.54" r="1.65" fill="#3299d8"/>
<circle cx="285.5" cy="153.24" r="1.65" fill="#3299d8"/>
<circle cx="285.5" cy="158.94" r="1.65" fill="#3299d8"/>
<circle cx="285.5" cy="164.63" r="1.65" fill="#3299d8"/>
<rect x="284.4" y="168.82" width="2.2" height="20.09" fill="#c8102e"/>
<circle cx="285.5" cy="170.32" r="1.7" fill="#c8102e"/>
<circle cx="285.5" cy="176.02" r="1.7" fill="#c8102e"/>
<circle cx="285.5" cy="181.72" r="1.7" fill="#c8102e"/>
<circle cx="285.5" cy="187.41" r="1.7" fill="#c8102e"/>
<text transform="translate(281.4,96.05) rotate(-90)" font-size="7.0" fill="#4aaee2" text-anchor="middle" textLength="19.9" lengthAdjust="spacingAndGlyphs">MRD–</text>
<text transform="translate(281.6,179) rotate(-90)" font-size="7.0" fill="#c8102e" text-anchor="middle" textLength="19.1" lengthAdjust="spacingAndGlyphs">MRD+</text>
<line x1="284.6" y1="191" x2="490.5" y2="191" stroke="#222" stroke-width="1.45" />
<line x1="298.7" y1="191" x2="298.7" y2="194.4" stroke="#222" stroke-width="1" />
<text x="298.7" y="205.1" font-size="6.8" fill="#2c2c2c" text-anchor="middle" stroke="#2c2c2c" stroke-width="0.14" >0</text>
<line x1="342.02" y1="191" x2="342.02" y2="194.4" stroke="#222" stroke-width="1" />
<text x="342.02" y="205.1" font-size="6.8" fill="#2c2c2c" text-anchor="middle" stroke="#2c2c2c" stroke-width="0.14" >200</text>
<line x1="385.34" y1="191" x2="385.34" y2="194.4" stroke="#222" stroke-width="1" />
<text x="385.34" y="205.1" font-size="6.8" fill="#2c2c2c" text-anchor="middle" stroke="#2c2c2c" stroke-width="0.14" >400</text>
<line x1="428.66" y1="191" x2="428.66" y2="194.4" stroke="#222" stroke-width="1" />
<text x="428.66" y="205.1" font-size="6.8" fill="#2c2c2c" text-anchor="middle" stroke="#2c2c2c" stroke-width="0.14" >600</text>
<line x1="471.98" y1="191" x2="471.98" y2="194.4" stroke="#222" stroke-width="1" />
<text x="471.98" y="205.1" font-size="6.8" fill="#2c2c2c" text-anchor="middle" stroke="#2c2c2c" stroke-width="0.14" >800</text>
<text x="387.7" y="219.4" font-size="8.8" fill="#1a1a1a" text-anchor="middle" textLength="49.2" lengthAdjust="spacingAndGlyphs" stroke="#1a1a1a" stroke-width="0.32">Follow-up (days)</text>
<text x="262.8" y="233.2" font-size="6.65" fill="#2c2c2c" textLength="29.9" lengthAdjust="spacingAndGlyphs" stroke="#2c2c2c" stroke-width="0.14" >Response</text>
<rect x="263.0" y="240.8" width="3.8" height="3.8" fill="#3d9cca" stroke="#173f63" stroke-width="0.7"/>
<text x="269.4" y="245.2" font-size="6.9" fill="#2c2c2c" stroke="#2c2c2c" stroke-width="0.14" >CR</text>
<rect x="286.3" y="240.8" width="3.8" height="3.8" fill="#e6b8ac" stroke="#74403a" stroke-width="0.7"/>
<text x="292.7" y="245.2" font-size="6.9" fill="#2c2c2c" stroke="#2c2c2c" stroke-width="0.14" >PR</text>
<rect x="308.40000000000003" y="240.8" width="3.8" height="3.8" fill="#9a1c2c" stroke="#5a0f1a" stroke-width="0.6"/>
<text x="314.8" y="245.2" font-size="6.9" fill="#2c2c2c" stroke="#2c2c2c" stroke-width="0.14" >PD</text>
<text x="262.8" y="255.5" font-size="6.75" fill="#2c2c2c" textLength="58.7" lengthAdjust="spacingAndGlyphs"><tspan font-style="italic">TP53</tspan> mutated MCL</text>
<path d="M266.2 260.90 L269.5 264.2 L266.2 267.50 L262.9 264.2 Z" fill="#3b2a1e"/>
<text x="271.5" y="266.5" font-size="6.9" fill="#2c2c2c" stroke="#2c2c2c" stroke-width="0.14" >Yes</text>
<text x="332.4" y="233.2" font-size="6.65" fill="#2c2c2c" stroke="#2c2c2c" stroke-width="0.14" >Follow-up</text>
<line x1="333" y1="242.7" x2="342.5" y2="242.7" stroke="#111" stroke-width="1.2" />
<text x="345" y="245.2" font-size="6.75" fill="#2c2c2c" textLength="34.5" lengthAdjust="spacingAndGlyphs" stroke="#2c2c2c" stroke-width="0.14" >Progressed</text>
<line x1="333" y1="253" x2="342.5" y2="253" stroke="#56b2e3" stroke-width="1.2" />
<text x="345" y="255.5" font-size="6.75" fill="#2c2c2c" stroke="#2c2c2c" stroke-width="0.14" >Censored</text>
<rect x="332.6" y="261" width="20.4" height="6.7" fill="#c9c8cd"/>
<text x="356" y="266.5" font-size="6.75" fill="#2c2c2c" stroke="#2c2c2c" stroke-width="0.14" >On-therapy</text>
<path d="M388 239.60 L390.9 242.5 L388 245.40 L385.1 242.5 Z" fill="#6a0f1f"/>
<text x="394" y="245.2" font-size="6.75" fill="#2c2c2c" stroke="#2c2c2c" stroke-width="0.14" >Progression</text>
<path d="M385.6 250.6 L390.4 255.4 M385.6 255.4 L390.4 250.6" stroke="#222" stroke-width="0.9"/>
<text x="394" y="255.5" font-size="6.75" fill="#2c2c2c" stroke="#2c2c2c" stroke-width="0.14" >Death</text>
<text x="436.5" y="233.2" font-size="6.67" fill="#2c2c2c" textLength="76" lengthAdjust="spacingAndGlyphs" stroke="#2c2c2c" stroke-width="0.14" >Response at therapy stop</text>
<circle cx="440.6" cy="242.5" r="4.0" fill="#c01530" stroke="#8a1030" stroke-width="0.7"/>
<text x="447.40000000000003" y="245.0" font-size="6.75" fill="#2c2c2c" stroke="#2c2c2c" stroke-width="0.14" >PD</text>
<circle cx="466.7" cy="242.5" r="4.0" fill="#a48cc8" stroke="#a8458a" stroke-width="0.7"/>
<text x="473.5" y="245.0" font-size="6.75" fill="#2c2c2c" stroke="#2c2c2c" stroke-width="0.14" >Other</text>
<circle cx="440.6" cy="253" r="4.0" fill="#47ade2" stroke="#6a4a8a" stroke-width="0.7"/>
<text x="447.40000000000003" y="255.5" font-size="6.75" fill="#2c2c2c" stroke="#2c2c2c" stroke-width="0.14" >CR</text>
<circle cx="466.7" cy="253" r="4.0" fill="#3ba643" stroke="#7a4a3a" stroke-width="0.7"/>
<text x="473.5" y="255.5" font-size="6.75" fill="#2c2c2c" stroke="#2c2c2c" stroke-width="0.14" >Toxicity</text>
<circle cx="440.6" cy="264" r="4.0" fill="#253f6e" stroke="#63285f" stroke-width="0.7"/>
<text x="447.40000000000003" y="266.5" font-size="6.75" fill="#2c2c2c" stroke="#2c2c2c" stroke-width="0.14" >MRD- (RQ-PCR)</text>
<text x="8" y="295.5" font-size="12.3" fill="#111" font-weight="bold" stroke="#111" stroke-width="0.55">C</text>
<line x1="42" y1="301" x2="42" y2="426.2" stroke="#222" stroke-width="1.45" />
<line x1="41.3" y1="425.5" x2="202.5" y2="425.5" stroke="#222" stroke-width="1.45" />
<line x1="38.5" y1="307.5" x2="42" y2="307.5" stroke="#222" stroke-width="1.2" />
<text x="35.3" y="310.0" font-size="7" fill="#2c2c2c" text-anchor="end" textLength="13.75" lengthAdjust="spacingAndGlyphs" stroke="#2c2c2c" stroke-width="0.14" >1.00</text>
<line x1="38.5" y1="335.5" x2="42" y2="335.5" stroke="#222" stroke-width="1.2" />
<text x="35.3" y="338.0" font-size="7" fill="#2c2c2c" text-anchor="end" textLength="13.75" lengthAdjust="spacingAndGlyphs" stroke="#2c2c2c" stroke-width="0.14" >0.75</text>
<line x1="38.5" y1="363.25" x2="42" y2="363.25" stroke="#222" stroke-width="1.2" />
<text x="35.3" y="365.75" font-size="7" fill="#2c2c2c" text-anchor="end" textLength="13.75" lengthAdjust="spacingAndGlyphs" stroke="#2c2c2c" stroke-width="0.14" >0.50</text>
<line x1="38.5" y1="391.25" x2="42" y2="391.25" stroke="#222" stroke-width="1.2" />
<text x="35.3" y="393.75" font-size="7" fill="#2c2c2c" text-anchor="end" textLength="13.75" lengthAdjust="spacingAndGlyphs" stroke="#2c2c2c" stroke-width="0.14" >0.25</text>
<line x1="38.5" y1="419.25" x2="42" y2="419.25" stroke="#222" stroke-width="1.2" />
<text x="35.3" y="421.75" font-size="7" fill="#2c2c2c" text-anchor="end" textLength="13.75" lengthAdjust="spacingAndGlyphs" stroke="#2c2c2c" stroke-width="0.14" >0.00</text>
<line x1="49.25" y1="425.5" x2="49.25" y2="428.7" stroke="#222" stroke-width="1" />
<text x="49.25" y="438.1" font-size="6.9" fill="#2c2c2c" text-anchor="middle" stroke="#2c2c2c" stroke-width="0.14" >0</text>
<line x1="93" y1="425.5" x2="93" y2="428.7" stroke="#222" stroke-width="1" />
<text x="93" y="438.1" font-size="6.9" fill="#2c2c2c" text-anchor="middle" stroke="#2c2c2c" stroke-width="0.14" >180</text>
<line x1="136.75" y1="425.5" x2="136.75" y2="428.7" stroke="#222" stroke-width="1" />
<text x="136.75" y="438.1" font-size="6.9" fill="#2c2c2c" text-anchor="middle" stroke="#2c2c2c" stroke-width="0.14" >360</text>
<line x1="180.5" y1="425.5" x2="180.5" y2="428.7" stroke="#222" stroke-width="1" />
<text x="180.5" y="438.1" font-size="6.9" fill="#2c2c2c" text-anchor="middle" stroke="#2c2c2c" stroke-width="0.14" >540</text>
<text transform="translate(15,364) rotate(-90)" font-size="8.2" fill="#141414" stroke="#141414" stroke-width="0.38" text-anchor="middle" textLength="55" lengthAdjust="spacingAndGlyphs">Survival probability</text>
<text x="122" y="450.6" font-size="8.8" fill="#1a1a1a" text-anchor="middle" textLength="75" lengthAdjust="spacingAndGlyphs" stroke="#1a1a1a" stroke-width="0.32">PFS (days from landmark)</text>
<path d="M49.25 307.5 L71.75 307.5 L71.75 312 L106.5 312 L106.5 316.25 L108.75 316.25 L108.75 321.25 L173.25 321.25 L173.25 333.75 L202 333.75" fill="none" stroke="#3b9fd8" stroke-width="1.9" stroke-linejoin="miter"/>
<line x1="106" y1="309.4" x2="106" y2="314.6" stroke="#3b9fd8" stroke-width="0.9" />
<line x1="121.2" y1="318.65" x2="121.2" y2="323.85" stroke="#3b9fd8" stroke-width="0.9" />
<line x1="127.5" y1="318.65" x2="127.5" y2="323.85" stroke="#3b9fd8" stroke-width="0.9" />
<line x1="131.7" y1="318.65" x2="131.7" y2="323.85" stroke="#3b9fd8" stroke-width="0.9" />
<line x1="134.9" y1="318.65" x2="134.9" y2="323.85" stroke="#3b9fd8" stroke-width="0.9" />
<line x1="147.6" y1="318.65" x2="147.6" y2="323.85" stroke="#3b9fd8" stroke-width="0.9" />
<line x1="149.7" y1="318.65" x2="149.7" y2="323.85" stroke="#3b9fd8" stroke-width="0.9" />
<line x1="153.9" y1="318.65" x2="153.9" y2="323.85" stroke="#3b9fd8" stroke-width="0.9" />
<line x1="156.1" y1="318.65" x2="156.1" y2="323.85" stroke="#3b9fd8" stroke-width="0.9" />
<line x1="161.3" y1="318.65" x2="161.3" y2="323.85" stroke="#3b9fd8" stroke-width="0.9" />
<line x1="173" y1="318.65" x2="173" y2="323.85" stroke="#3b9fd8" stroke-width="0.9" />
<line x1="176.2" y1="331.15" x2="176.2" y2="336.35" stroke="#3b9fd8" stroke-width="0.9" />
<line x1="181.4" y1="331.15" x2="181.4" y2="336.35" stroke="#3b9fd8" stroke-width="0.9" />
<line x1="185.7" y1="331.15" x2="185.7" y2="336.35" stroke="#3b9fd8" stroke-width="0.9" />
<path d="M49.25 307.5 L70 307.5 L70 335.5 L72.5 335.5 L72.5 363.25 L87.5 363.25 L87.5 391.25 L108 391.25 L108 419.25" fill="none" stroke="#b3163b" stroke-width="1.9" stroke-linejoin="miter"/>
<text x="119.2" y="312" font-size="7.05" fill="#58ade2" textLength="42.25" lengthAdjust="spacingAndGlyphs" stroke="none">ctDNA MRD−</text>
<text x="119.3" y="410.6" font-size="7.05" fill="#b32a4f" textLength="42.25" lengthAdjust="spacingAndGlyphs" stroke="none">ctDNA MRD+</text>
<text x="49" y="413" font-size="7" fill="#222" textLength="30" lengthAdjust="spacingAndGlyphs"><tspan font-style="italic">P</tspan> &lt; .0001</text>
<text x="42" y="469.4" font-size="6.6" fill="#2c2c2c" textLength="43" lengthAdjust="spacingAndGlyphs" stroke="#2c2c2c" stroke-width="0.14" >Number at risk</text>
<line x1="42" y1="478.3" x2="42" y2="500.7" stroke="#222" stroke-width="1.45" />
<line x1="41.3" y1="500" x2="202.3" y2="500" stroke="#222" stroke-width="1.45" />
<line x1="38.5" y1="484.6" x2="42" y2="484.6" stroke="#222" stroke-width="1.2" />
<text x="35.3" y="487.05" font-size="6.75" fill="#2c2c2c" text-anchor="end" stroke="#2c2c2c" stroke-width="0.14" >MRD−</text>
<text x="49.25" y="487.05" font-size="6.75" fill="#2c2c2c" text-anchor="middle" stroke="#2c2c2c" stroke-width="0.14" >25</text>
<text x="93" y="487.05" font-size="6.75" fill="#2c2c2c" text-anchor="middle" stroke="#2c2c2c" stroke-width="0.14" >24</text>
<text x="136.75" y="487.05" font-size="6.75" fill="#2c2c2c" text-anchor="middle" stroke="#2c2c2c" stroke-width="0.14" >17</text>
<text x="180.5" y="487.05" font-size="6.75" fill="#2c2c2c" text-anchor="middle" stroke="#2c2c2c" stroke-width="0.14" >5</text>
<line x1="38.5" y1="493.9" x2="42" y2="493.9" stroke="#222" stroke-width="1.2" />
<text x="35.3" y="496.34999999999997" font-size="6.75" fill="#2c2c2c" text-anchor="end" stroke="#2c2c2c" stroke-width="0.14" >MRD+</text>
<text x="49.25" y="496.34999999999997" font-size="6.75" fill="#2c2c2c" text-anchor="middle" stroke="#2c2c2c" stroke-width="0.14" >4</text>
<text x="93" y="496.34999999999997" font-size="6.75" fill="#2c2c2c" text-anchor="middle" stroke="#2c2c2c" stroke-width="0.14" >1</text>
<text x="136.75" y="496.34999999999997" font-size="6.75" fill="#2c2c2c" text-anchor="middle" stroke="#2c2c2c" stroke-width="0.14" >0</text>
<text x="180.5" y="496.34999999999997" font-size="6.75" fill="#2c2c2c" text-anchor="middle" stroke="#2c2c2c" stroke-width="0.14" >0</text>
<line x1="49.25" y1="500" x2="49.25" y2="503.2" stroke="#222" stroke-width="1" />
<text x="49.25" y="513.2" font-size="6.9" fill="#2c2c2c" text-anchor="middle" stroke="#2c2c2c" stroke-width="0.14" >0</text>
<line x1="93" y1="500" x2="93" y2="503.2" stroke="#222" stroke-width="1" />
<text x="93" y="513.2" font-size="6.9" fill="#2c2c2c" text-anchor="middle" stroke="#2c2c2c" stroke-width="0.14" >180</text>
<line x1="136.75" y1="500" x2="136.75" y2="503.2" stroke="#222" stroke-width="1" />
<text x="136.75" y="513.2" font-size="6.9" fill="#2c2c2c" text-anchor="middle" stroke="#2c2c2c" stroke-width="0.14" >360</text>
<line x1="180.5" y1="500" x2="180.5" y2="503.2" stroke="#222" stroke-width="1" />
<text x="180.5" y="513.2" font-size="6.9" fill="#2c2c2c" text-anchor="middle" stroke="#2c2c2c" stroke-width="0.14" >540</text>
<text x="263.7" y="295.5" font-size="12.3" fill="#111" font-weight="bold" stroke="#111" stroke-width="0.55">D</text>
<line x1="321.4" y1="301" x2="321.4" y2="426.2" stroke="#222" stroke-width="1.45" />
<line x1="320.7" y1="425.5" x2="481.8" y2="425.5" stroke="#222" stroke-width="1.45" />
<line x1="317.9" y1="307.5" x2="321.4" y2="307.5" stroke="#222" stroke-width="1.2" />
<text x="314.8" y="310.0" font-size="7" fill="#2c2c2c" text-anchor="end" textLength="13.75" lengthAdjust="spacingAndGlyphs" stroke="#2c2c2c" stroke-width="0.14" >1.00</text>
<line x1="317.9" y1="335.5" x2="321.4" y2="335.5" stroke="#222" stroke-width="1.2" />
<text x="314.8" y="338.0" font-size="7" fill="#2c2c2c" text-anchor="end" textLength="13.75" lengthAdjust="spacingAndGlyphs" stroke="#2c2c2c" stroke-width="0.14" >0.75</text>
<line x1="317.9" y1="363.25" x2="321.4" y2="363.25" stroke="#222" stroke-width="1.2" />
<text x="314.8" y="365.75" font-size="7" fill="#2c2c2c" text-anchor="end" textLength="13.75" lengthAdjust="spacingAndGlyphs" stroke="#2c2c2c" stroke-width="0.14" >0.50</text>
<line x1="317.9" y1="391.25" x2="321.4" y2="391.25" stroke="#222" stroke-width="1.2" />
<text x="314.8" y="393.75" font-size="7" fill="#2c2c2c" text-anchor="end" textLength="13.75" lengthAdjust="spacingAndGlyphs" stroke="#2c2c2c" stroke-width="0.14" >0.25</text>
<line x1="317.9" y1="419.25" x2="321.4" y2="419.25" stroke="#222" stroke-width="1.2" />
<text x="314.8" y="421.75" font-size="7" fill="#2c2c2c" text-anchor="end" textLength="13.75" lengthAdjust="spacingAndGlyphs" stroke="#2c2c2c" stroke-width="0.14" >0.00</text>
<line x1="328.6" y1="425.5" x2="328.6" y2="428.7" stroke="#222" stroke-width="1" />
<text x="328.6" y="438.1" font-size="6.9" fill="#2c2c2c" text-anchor="middle" stroke="#2c2c2c" stroke-width="0.14" >0</text>
<line x1="372.5" y1="425.5" x2="372.5" y2="428.7" stroke="#222" stroke-width="1" />
<text x="372.5" y="438.1" font-size="6.9" fill="#2c2c2c" text-anchor="middle" stroke="#2c2c2c" stroke-width="0.14" >180</text>
<line x1="416.5" y1="425.5" x2="416.5" y2="428.7" stroke="#222" stroke-width="1" />
<text x="416.5" y="438.1" font-size="6.9" fill="#2c2c2c" text-anchor="middle" stroke="#2c2c2c" stroke-width="0.14" >360</text>
<line x1="460.2" y1="425.5" x2="460.2" y2="428.7" stroke="#222" stroke-width="1" />
<text x="460.2" y="438.1" font-size="6.9" fill="#2c2c2c" text-anchor="middle" stroke="#2c2c2c" stroke-width="0.14" >540</text>
<text transform="translate(294.5,364) rotate(-90)" font-size="8.2" fill="#141414" stroke="#141414" stroke-width="0.38" text-anchor="middle" textLength="55" lengthAdjust="spacingAndGlyphs">Survival probability</text>
<text x="401.5" y="450.6" font-size="8.8" fill="#1a1a1a" text-anchor="middle" textLength="75" lengthAdjust="spacingAndGlyphs" stroke="#1a1a1a" stroke-width="0.32">PFS (days from landmark)</text>
<path d="M328.6 307.5 L386 307.5 L386 312.5 L388 312.5 L388 318.25 L453 318.25 L453 331.25 L481.75 331.25" fill="none" stroke="#3b9fd8" stroke-width="1.9" stroke-linejoin="miter"/>
<line x1="385.3" y1="304.9" x2="385.3" y2="310.1" stroke="#3b9fd8" stroke-width="0.9" />
<line x1="401" y1="315.65" x2="401" y2="320.85" stroke="#3b9fd8" stroke-width="0.9" />
<line x1="415" y1="315.65" x2="415" y2="320.85" stroke="#3b9fd8" stroke-width="0.9" />
<line x1="416.8" y1="315.65" x2="416.8" y2="320.85" stroke="#3b9fd8" stroke-width="0.9" />
<line x1="427.5" y1="315.65" x2="427.5" y2="320.85" stroke="#3b9fd8" stroke-width="0.9" />
<line x1="432.5" y1="315.65" x2="432.5" y2="320.85" stroke="#3b9fd8" stroke-width="0.9" />
<line x1="435" y1="315.65" x2="435" y2="320.85" stroke="#3b9fd8" stroke-width="0.9" />
<line x1="440" y1="315.65" x2="440" y2="320.85" stroke="#3b9fd8" stroke-width="0.9" />
<line x1="442" y1="315.65" x2="442" y2="320.85" stroke="#3b9fd8" stroke-width="0.9" />
<line x1="453" y1="315.65" x2="453" y2="320.85" stroke="#3b9fd8" stroke-width="0.9" />
<line x1="456" y1="328.65" x2="456" y2="333.85" stroke="#3b9fd8" stroke-width="0.9" />
<line x1="461" y1="328.65" x2="461" y2="333.85" stroke="#3b9fd8" stroke-width="0.9" />
<line x1="465.5" y1="328.65" x2="465.5" y2="333.85" stroke="#3b9fd8" stroke-width="0.9" />
<path d="M328.6 307.5 L348.75 307.5 L348.75 323.75 L351.25 323.75 L351.25 355.5 L366.5 355.5 L366.5 371.25 L386.5 371.25 L386.5 387.25 L443.75 387.25" fill="none" stroke="#b3163b" stroke-width="1.9" stroke-linejoin="miter"/>
<line x1="408.75" y1="384.65" x2="408.75" y2="389.85" stroke="#b3163b" stroke-width="0.9" />
<line x1="441.25" y1="384.65" x2="441.25" y2="389.85" stroke="#b3163b" stroke-width="0.9" />
<text x="393.75" y="312" font-size="6.9" fill="#58ade2" textLength="56.75" lengthAdjust="spacingAndGlyphs" stroke="none">CR &amp; ctDNA MRD−</text>
<text x="390" y="407" font-size="7.05" fill="#b32a4f" textLength="73.75" lengthAdjust="spacingAndGlyphs" stroke="none">PR/SD or ctDNA MRD+</text>
<text x="328.5" y="412.5" font-size="7" fill="#222" textLength="30" lengthAdjust="spacingAndGlyphs"><tspan font-style="italic">P</tspan> &lt; .0001</text>
<text x="321.6" y="469.4" font-size="6.6" fill="#2c2c2c" textLength="43" lengthAdjust="spacingAndGlyphs" stroke="#2c2c2c" stroke-width="0.14" >Number at risk</text>
<line x1="321.6" y1="478.3" x2="321.6" y2="500.7" stroke="#222" stroke-width="1.45" />
<line x1="320.90000000000003" y1="500" x2="481.5" y2="500" stroke="#222" stroke-width="1.45" />
<line x1="318.1" y1="484.5" x2="321.6" y2="484.5" stroke="#222" stroke-width="1.2" />
<text x="314.2" y="486.95" font-size="6.75" fill="#2c2c2c" text-anchor="end" stroke="#2c2c2c" stroke-width="0.14" >CR and MRD−</text>
<text x="328.6" y="486.95" font-size="6.75" fill="#2c2c2c" text-anchor="middle" stroke="#2c2c2c" stroke-width="0.14" >22</text>
<text x="372.5" y="486.95" font-size="6.75" fill="#2c2c2c" text-anchor="middle" stroke="#2c2c2c" stroke-width="0.14" >22</text>
<text x="416.5" y="486.95" font-size="6.75" fill="#2c2c2c" text-anchor="middle" stroke="#2c2c2c" stroke-width="0.14" >16</text>
<text x="460.2" y="486.95" font-size="6.75" fill="#2c2c2c" text-anchor="middle" stroke="#2c2c2c" stroke-width="0.14" >5</text>
<line x1="318.1" y1="494.1" x2="321.6" y2="494.1" stroke="#222" stroke-width="1.2" />
<text x="314.2" y="496.55" font-size="6.75" fill="#2c2c2c" text-anchor="end" stroke="#2c2c2c" stroke-width="0.14" >PR/SD or MRD+</text>
<text x="328.6" y="496.55" font-size="6.75" fill="#2c2c2c" text-anchor="middle" stroke="#2c2c2c" stroke-width="0.14" >7</text>
<text x="372.5" y="496.55" font-size="6.75" fill="#2c2c2c" text-anchor="middle" stroke="#2c2c2c" stroke-width="0.14" >3</text>
<text x="416.5" y="496.55" font-size="6.75" fill="#2c2c2c" text-anchor="middle" stroke="#2c2c2c" stroke-width="0.14" >1</text>
<text x="460.2" y="496.55" font-size="6.75" fill="#2c2c2c" text-anchor="middle" stroke="#2c2c2c" stroke-width="0.14" >0</text>
<line x1="328.6" y1="500" x2="328.6" y2="503.2" stroke="#222" stroke-width="1" />
<text x="328.6" y="513.2" font-size="6.9" fill="#2c2c2c" text-anchor="middle" stroke="#2c2c2c" stroke-width="0.14" >0</text>
<line x1="372.5" y1="500" x2="372.5" y2="503.2" stroke="#222" stroke-width="1" />
<text x="372.5" y="513.2" font-size="6.9" fill="#2c2c2c" text-anchor="middle" stroke="#2c2c2c" stroke-width="0.14" >180</text>
<line x1="416.5" y1="500" x2="416.5" y2="503.2" stroke="#222" stroke-width="1" />
<text x="416.5" y="513.2" font-size="6.9" fill="#2c2c2c" text-anchor="middle" stroke="#2c2c2c" stroke-width="0.14" >360</text>
<line x1="460.2" y1="500" x2="460.2" y2="503.2" stroke="#222" stroke-width="1" />
<text x="460.2" y="513.2" font-size="6.9" fill="#2c2c2c" text-anchor="middle" stroke="#2c2c2c" stroke-width="0.14" >540</text>
</svg><div class="bd"></div></div></body></html>
